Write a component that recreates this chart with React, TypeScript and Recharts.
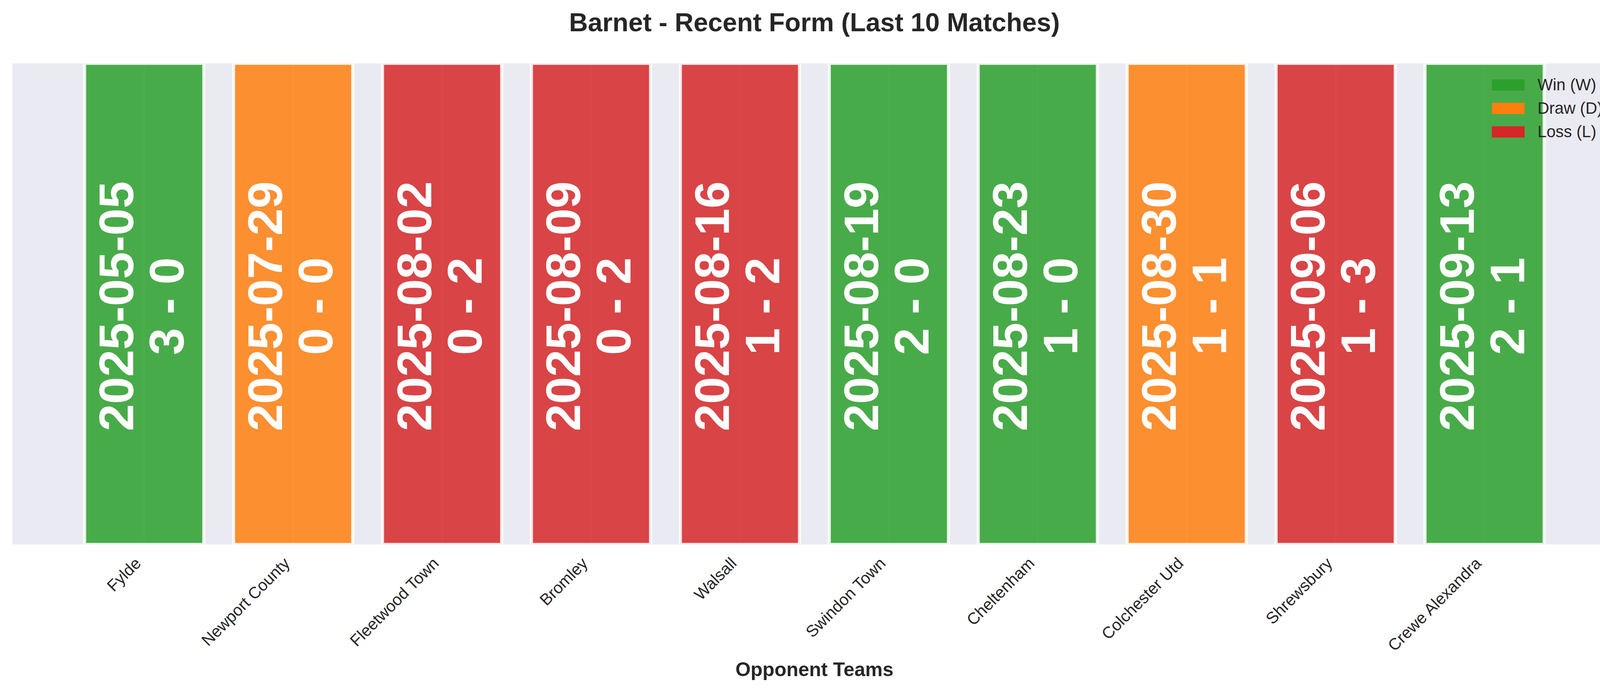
import React from 'react';
import { BarChart, Bar, XAxis, YAxis, CartesianGrid, Cell, LabelList, Legend, Customized } from 'recharts';

const teams = ['Fylde', 'Newport County', 'Fleetwood Town', 'Bromley', 'Walsall', 'Swindon Town', 'Cheltenham', 'Colchester Utd', 'Shrewsbury', 'Crewe Alexandra'];
const dates = ['2025-05-05', '2025-07-29', '2025-08-02', '2025-08-09', '2025-08-16', '2025-08-19', '2025-08-23', '2025-08-30', '2025-09-06', '2025-09-13'];
const scores = ['3 - 0', '0 - 0', '0 - 2', '0 - 2', '1 - 2', '2 - 0', '1 - 0', '1 - 1', '1 - 3', '2 - 1'];
const results = ['W', 'D', 'L', 'L', 'L', 'W', 'W', 'D', 'L', 'W'];
const barValues = [1, 1, 1, 1, 1, 1, 1, 1, 1, 1];

const resultColors: Record<string, string> = { W: '#2ca02c', D: '#ff7f0e', L: '#d62728' };
const legendItems = [
  { key: 'W', label: 'Win (W)' },
  { key: 'D', label: 'Draw (D)' },
  { key: 'L', label: 'Loss (L)' },
];

const data = teams.map((t, i) => ({ x: i, team: t, value: barValues[i], date: dates[i], score: scores[i], result: results[i] }));

const W = 4170;
const H = 1768;
const FONT = '"Liberation Sans", Arial, sans-serif';
const TEXT = '#262626';
const M_LEFT = 30;
const M_RIGHT = 30;
const M_TOP = 162;
const PLOT_BOTTOM = 1393;
const DOMAIN: [number, number] = [-0.89, 9.89];
const pxPerUnit = (W - M_LEFT - M_RIGHT) / (DOMAIN[1] - DOMAIN[0]);
const BAR_SIZE = Math.round(0.8 * pxPerUnit);

const TeamTick = (props: any) => {
  const { x, y, payload } = props;
  const ax = x - 6;
  const ay = y + 51;
  return (
    <text x={ax} y={ay} transform={`rotate(-45, ${ax}, ${ay})`} textAnchor="end" fontSize={41.7} fontFamily={FONT} fill={TEXT}>
      {teams[payload.value]}
    </text>
  );
};

const InBarLabel = (props: any) => {
  const { x, y, width, height, index } = props;
  const cx = x + width / 2;
  const cy = y + height / 2;
  return (
    <text transform={`rotate(-90, ${cx}, ${cy})`} textAnchor="middle" fontSize={125} fontWeight="bold" fontFamily={FONT} fill="#ffffff">
      <tspan x={cx - 6} y={cy - 28}>{dates[index]}</tspan>
      <tspan x={cx - 6} y={cy + 101}>{scores[index]}</tspan>
    </text>
  );
};

const LegendContent = () => (
  <div style={{ fontFamily: FONT, fontSize: 41.7, color: TEXT }}>
    {legendItems.map((it) => (
      <div key={it.key} style={{ height: 60, display: 'flex', alignItems: 'center', whiteSpace: 'nowrap' }}>
        <div style={{ width: 84, height: 29, background: resultColors[it.key], marginRight: 33 }} />
        <span style={{ lineHeight: '60px' }}>{it.label}</span>
      </div>
    ))}
  </div>
);

const Title = () => (
  <text x={W / 2} y={80} textAnchor="middle" fontSize={66.7} fontWeight="bold" fontFamily={FONT} fill={TEXT}>
    Barnet - Recent Form (Last 10 Matches)
  </text>
);

export default function App() {
  return (
    <div style={{ position: 'absolute', left: 0, top: 0, width: W, height: H, background: '#ffffff' }}>
      <BarChart width={W} height={H} data={data} margin={{ top: M_TOP, right: M_RIGHT, left: M_LEFT, bottom: 0 }}>
        <CartesianGrid horizontal={false} vertical={true} stroke="#ffffff" strokeWidth={4} fill="#EAEAF2" fillOpacity={1} />
        <XAxis
          dataKey="x"
          type="number"
          domain={DOMAIN}
          ticks={[0, 1, 2, 3, 4, 5, 6, 7, 8, 9]}
          allowDataOverflow
          axisLine={false}
          tickLine={false}
          tickSize={0}
          tickMargin={0}
          height={H - PLOT_BOTTOM}
          interval={0}
          tick={<TeamTick />}
          label={{ value: 'Opponent Teams', position: 'insideBottom', offset: 38, fontSize: 50, fontWeight: 'bold', fontFamily: FONT, fill: TEXT }}
        />
        <YAxis hide type="number" domain={[0, 1]} width={0} />
        <Legend
          layout="vertical"
          align="center"
          verticalAlign="middle"
          content={<LegendContent />}
          wrapperStyle={{ position: 'absolute', left: 3819, top: 187, width: 320, height: 180 }}
        />
        <Bar dataKey="value" barSize={BAR_SIZE} isAnimationActive={false}>
          {data.map((d, i) => (
            <Cell key={i} fill={resultColors[d.result]} fillOpacity={0.85} stroke="#ffffff" strokeWidth={8} strokeOpacity={0.85} />
          ))}
          <LabelList dataKey="value" content={<InBarLabel />} />
        </Bar>
        <Customized component={<Title />} />
      </BarChart>
    </div>
  );
}
